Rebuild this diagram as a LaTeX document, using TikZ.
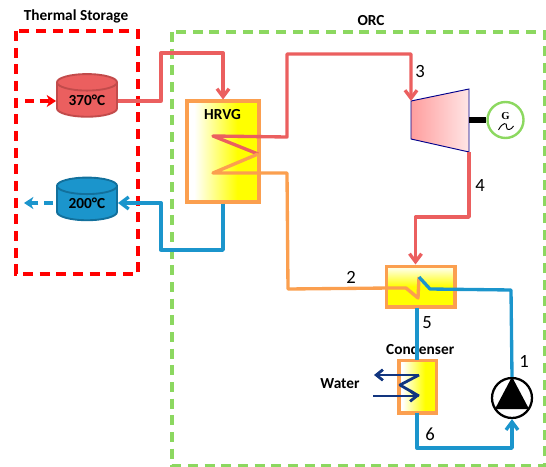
\documentclass[tikz,border=0pt]{standalone}
\usepackage{fontspec}
\setmainfont{Carlito}
\newfontfamily\genfont{Liberation Serif}
\usetikzlibrary{arrows.meta, positioning, shapes.geometric, calc}
\definecolor{hotred}{HTML}{EB5F5F}
\definecolor{hotedge}{HTML}{C24B4B}
\definecolor{coldblue}{HTML}{1B95CC}
\definecolor{coldedge}{HTML}{12709C}
\definecolor{warmorange}{HTML}{FB9F4F}
\definecolor{frameGreen}{HTML}{8CD860}
\definecolor{navyline}{HTML}{12357F}
\pgfdeclarehorizontalshading{hxright}{100bp}{color(0bp)=(white); color(30bp)=(white); color(60bp)=(yellow); color(100bp)=(yellow)}
\pgfdeclareverticalshading{hxdown}{100bp}{color(0bp)=(yellow); color(50bp)=(yellow); color(72bp)=(yellow!12); color(100bp)=(yellow!12)}
\begin{document}
\begin{tikzpicture}[
    x=0.75pt, y=-0.75pt,
    hotpipe/.style={draw=hotred, line width=2.5pt, line join=round},
    warmpipe/.style={draw=warmorange, line width=2.5pt, line join=round},
    coldpipe/.style={draw=coldblue, line width=2.5pt, line join=round},
    waterpipe/.style={draw=navyline, line width=2.1pt, line join=round},
    pipetip/.style={-{Straight Barb[length=6pt, width=9pt]}},
    dashtip/.style={dash pattern=on 7pt off 4pt, -{Stealth[length=7pt, width=9pt, inset=2pt]}},
    framebox/.style={line width=2.5pt, dash pattern=on 7.5pt off 5pt},
    tank/.style={draw, line width=1.4pt, shape=cylinder, shape border rotate=90, aspect=0.45, minimum width=45pt, minimum height=32pt, inner sep=0pt, font=\bfseries\fontsize{11.5}{11.5}\selectfont},
    hxbox/.style={draw=warmorange, line width=2.5pt, inner sep=0pt},
    statelabel/.style={font=\fontsize{14}{14}\selectfont, inner sep=0pt},
    titlelabel/.style={font=\bfseries\fontsize{11.5}{11.5}\selectfont, inner sep=0pt}
]
\useasboundingbox (0,0) rectangle (546,467);

% Frames
\draw[framebox, draw=red] (16,31) rectangle (138,274);
\draw[framebox, draw=frameGreen] (172,32) rectangle (545,466);
\node[titlelabel] (storagetitle) at (76,16) {Thermal Storage};
\node[titlelabel] (orctitle) at (371,21) {ORC};

% Storage tanks
\node[tank, draw=hotedge, fill=hotred] (tank370) at (87,100) {\raisebox{-3pt}{370°C}};
\node[tank, draw=coldedge, fill=coldblue] (tank200) at (87,203.5) {\raisebox{-3pt}{200°C}};
\coordinate (hotin) at (25,101);
\coordinate (coldout) at (24,203);
\draw[line width=2.5pt, draw=red, dashtip] (hotin) -- (tank370.west |- hotin);
\draw[line width=2.5pt, draw=coldblue, dashtip] ($(tank200.west |- coldout)+(-3,0)$) -- (coldout);

% Heat exchangers
\node[hxbox, shading=hxright, minimum width=54pt, minimum height=75.5pt] (hrvg) at (223,151.5) {};
\node[titlelabel] (hrvglabel) at (222.5,115) {HRVG};
\node[hxbox, shading=hxdown, minimum width=51.5pt, minimum height=30.5pt] (recup) at (420.5,286.5) {};
\node[hxbox, shading=hxright, minimum width=28pt, minimum height=39.5pt] (condenser) at (417.5,386.5) {};
\node[titlelabel, above=3pt of condenser, xshift=2pt] (condlabel) {Condenser};
\node[titlelabel] (waterlabel) at (340,384) {Water};

% Turbine and generator
\coordinate (turbA) at (411,101);
\coordinate (turbB) at (469,89);
\coordinate (turbC) at (469,152);
\coordinate (turbD) at (411,139);
\shade[left color=red!38, right color=red!10] (turbA) -- (turbB) -- (turbC) -- (turbD) -- cycle;
\draw[draw=blue!55!black, line width=0.7pt] (turbA) -- (turbB) -- (turbC) -- (turbD) -- cycle;
\node[circle, draw=frameGreen, line width=1.8pt, fill=white, minimum size=27pt, inner sep=0pt] (gen) at (505.5,120) {};
\node[font=\genfont\bfseries\fontsize{8}{8}\selectfont, inner sep=0pt] (genletter) at (505.5,116) {G};
\draw[line width=0.7pt] ($(gen.center)+(-7,10)$) .. controls ($(gen.center)+(-3,2)$) and ($(gen.center)+(2,2)$) .. ($(gen.center)+(1,7)$) .. controls ($(gen.center)+(1,11)$) and ($(gen.center)+(6,10)$) .. ($(gen.center)+(8,6)$);
\draw[line width=5.2pt] (turbB |- gen.west) -- (gen.west);

% Pump
\node[circle, draw=black, line width=1.7pt, fill=white, minimum size=30pt, inner sep=0pt] (pump) at (512,398) {};
\fill (pump.north) -- ($(pump.center)+(17,11)$) -- ($(pump.center)+(-17,11)$) -- cycle;

% Hot side
\coordinate (hotbend) at (161,53);
\coordinate (coilA) at (213,136);
\coordinate (coilB) at (258,154);
\coordinate (coilC) at (213,173);
\coordinate (bendA) at (287,137);
\coordinate (bendB) at (287,173);
\coordinate (topline) at (287,54);
\coordinate (turbdrop) at (415.5,217);
\draw[hotpipe, pipetip] (tank370.east |- hotin) -- (hotbend |- hotin) -- (hotbend) -- (hrvg.north |- hotbend) -- (hrvg.north);
\draw[hotpipe, pipetip] (coilB) -- (coilA) -- (bendA) -- (topline) -- (turbA |- topline) -- (turbA);
\draw[hotpipe, pipetip] (turbC) -- (turbC |- turbdrop) -- (turbdrop) -- (turbdrop |- recup.north);

% Recuperator and return
\coordinate (recupA) at (390,288);
\coordinate (recupB) at (418,298);
\coordinate (recupC) at (419,277);
\coordinate (recupD) at (430,289);
\coordinate (recupE) at (511,290);
\draw[warmpipe] (coilB) -- (coilC) -- (bendB) -- (288,289) -- (recupA) -- (406,288) -- (recupB) -- (recupC);
\draw[coldpipe] (recupC) -- (recupD) -- (recupE) -- (pump.north);
\draw[coldpipe] (417,307.5) -- (417,360);
\coordinate (condoutlet) at (417,413);
\coordinate (pumpfeed) at (512,448);
\draw[coldpipe, pipetip] (condoutlet) -- (condoutlet |- pumpfeed) -- (pumpfeed) -- (pump.south);

% HRVG outlet
\coordinate (lowbend) at (161,250);
\draw[coldpipe, pipetip] (hrvg.south) -- (hrvg.south |- lowbend) -- (lowbend) -- (lowbend |- coldout) -- (tank200.east |- coldout);

% Condenser coil
\coordinate (waterA) at (419,375);
\coordinate (waterB) at (400,385);
\coordinate (waterC) at (419,396);
\draw[waterpipe, -{Straight Barb[length=5pt, width=8pt]}] (waterA) -- (374,375);
\draw[waterpipe] (waterA) -- (waterB) -- (waterC);
\draw[waterpipe, -{Straight Barb[length=5pt, width=8pt]}] (373,396) -- (waterC);

% State points
\node[statelabel] (state1) at (524,361) {1};
\node[statelabel] (state2) at (351,277) {2};
\node[statelabel] (state3) at (420,72) {3};
\node[statelabel] (state4) at (480,186) {4};
\node[statelabel] (state5) at (427,323) {5};
\node[statelabel] (state6) at (430,434) {6};
\end{tikzpicture}
\end{document}
